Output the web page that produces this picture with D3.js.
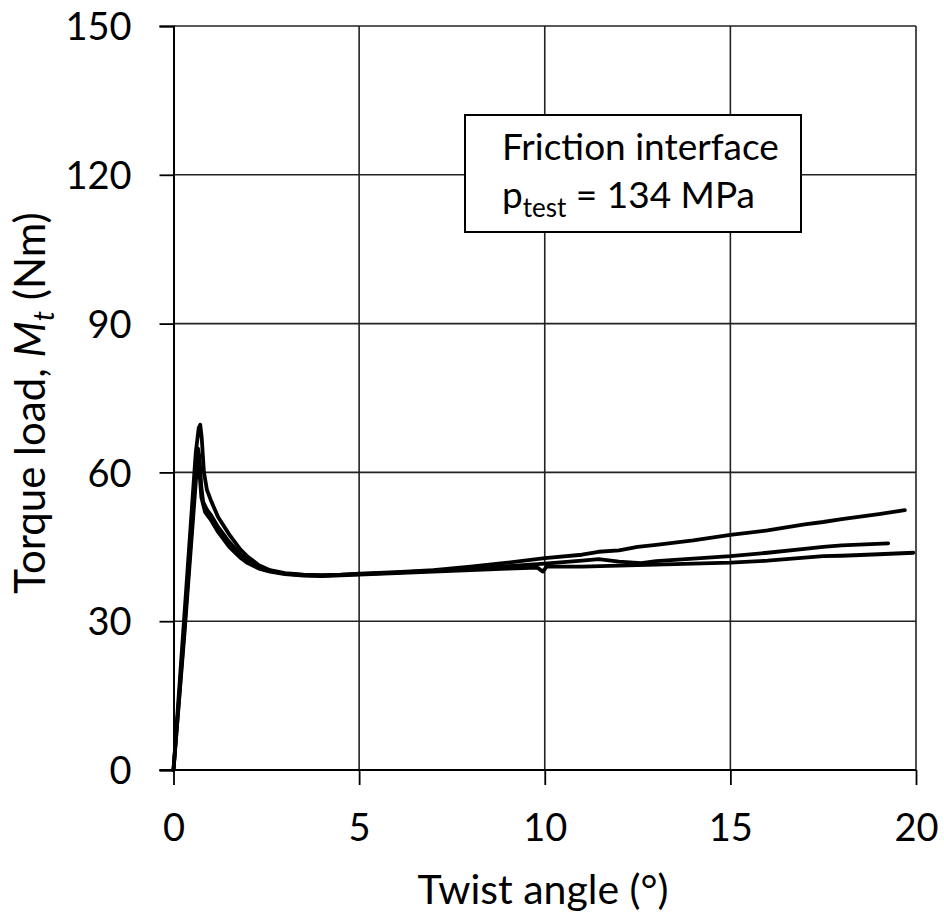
<!DOCTYPE html>
<html><head><meta charset="utf-8">
<script src="https://cdn.jsdelivr.net/npm/d3@7/dist/d3.min.js"></script>
<style>body{margin:0;background:#fff}svg{display:block}text{font-family:Lato,"Open Sans",sans-serif;fill:#000}</style>
</head><body><svg id="c" width="944" height="920"></svg>
<script>
const xTicks = [0, 5, 10, 15, 20];
const yTicks = [0, 30, 60, 90, 120, 150];
const xTitle = "Twist angle (°)";
const legendLine1 = "Friction interface";
const legendPressure = "134 MPa";

const curveA = [[0,0],[0.3,32],[0.6,64],[0.68,69],[0.72,69.6],[0.76,67],[0.82,60],[0.9,56.5],[1.0,54.5],[1.2,51],[1.5,47.5],[1.8,44.5],[2.0,43],[2.3,41.3],[2.6,40.3],[3,39.7],[3.5,39.4],[4,39.3],[4.5,39.4],[5,39.6],[6,39.9],[7,40.3],[8,41],[9,41.8],[10,42.7],[11,43.4],[11.45,44],[12,44.3],[12.5,45],[13,45.4],[14,46.3],[15,47.4],[16,48.3],[17,49.5],[17.5,50],[18,50.6],[19,51.6],[19.7,52.4]];
const curveB = [[0,0],[0.3,29],[0.6,60],[0.66,64.8],[0.7,63],[0.75,57],[0.8,54],[0.9,52.5],[1.0,51.5],[1.2,49],[1.5,46],[1.8,43.5],[2.0,42.2],[2.3,41],[2.6,40.2],[3,39.6],[3.5,39.3],[4,39.2],[5,39.5],[6,39.8],[7,40.2],[8,40.6],[9,41.1],[10,41.6],[11,42.2],[11.45,42.5],[12,42],[12.6,41.7],[13,42.1],[14,42.6],[15,43.1],[16,43.8],[17,44.6],[17.5,45],[18,45.3],[19.25,45.7]];
const curveC = [[0,0],[0.3,28],[0.6,58],[0.65,62.9],[0.7,60],[0.75,55],[0.85,52],[1.0,50.5],[1.2,48],[1.5,45],[1.8,42.8],[2,41.7],[2.3,40.6],[2.6,40],[3,39.5],[3.5,39.2],[4,39.1],[5,39.4],[6,39.7],[7,40],[8,40.3],[9,40.6],[9.8,40.8],[9.95,40],[10.05,41],[11,41],[12,41.2],[13,41.4],[14,41.6],[15,41.8],[16,42.2],[17,42.8],[17.5,43.1],[18,43.2],[19,43.5],[19.93,43.8]];
const curves = [curveA, curveB, curveC];

const L = 173.5, R = 916, T = 26, B = 770;
const svg = d3.select("#c");
const x = d3.scaleLinear().domain([0, 20]).range([L, R]);
const y = d3.scaleLinear().domain([0, 150]).range([B, T]);

// gridlines
svg.append("g").selectAll("line").data(yTicks.filter(d => d > 0)).join("line")
  .attr("x1", L).attr("x2", R).attr("y1", d => y(d)).attr("y2", d => y(d))
  .attr("stroke", "#222").attr("stroke-width", 1.6);
svg.append("g").selectAll("line").data(xTicks.filter(d => d > 0)).join("line")
  .attr("y1", T).attr("y2", B).attr("x1", d => x(d)).attr("x2", d => x(d))
  .attr("stroke", "#222").attr("stroke-width", 1.6);

// axes
const xAxis = svg.append("g").attr("transform", `translate(0,${B})`)
  .call(d3.axisBottom(x).tickValues(xTicks).tickSize(15).tickPadding(29).tickFormat(d3.format("d")));
const yAxis = svg.append("g").attr("transform", `translate(${L},0)`)
  .call(d3.axisLeft(y).tickValues(yTicks).tickSize(14).tickPadding(28).tickFormat(d3.format("d")));
[xAxis, yAxis].forEach(a => {
  a.select(".domain").attr("stroke", "#000").attr("stroke-width", 2);
  a.selectAll(".tick line").attr("stroke", "#000").attr("stroke-width", 1.8);
  a.selectAll(".tick text").attr("font-size", 38).attr("font-family", "Lato").attr("fill", "#000");
});
yAxis.selectAll(".tick text").attr("dy", "0.36em");
xAxis.select(".domain").attr("d", `M${L - 14},0H${R}`);

// curves
const line = d3.line().x(d => x(d[0])).y(d => y(d[1]));
svg.append("g").selectAll("path").data(curves).join("path")
  .attr("d", line).attr("fill", "none").attr("stroke", "#000")
  .attr("stroke-width", 3.8).attr("stroke-linejoin", "round").attr("stroke-linecap", "round");

// legend box
svg.append("rect").attr("x", 465).attr("y", 115).attr("width", 336).attr("height", 117)
  .attr("fill", "#fff").attr("stroke", "#000").attr("stroke-width", 2);
svg.append("text").attr("x", 502).attr("y", 160).attr("font-size", 37).text(legendLine1);
const lt = svg.append("text").attr("x", 502).attr("y", 208).attr("font-size", 37);
lt.append("tspan").text("p");
lt.append("tspan").attr("font-size", 26).attr("dy", 9).text("test");
lt.append("tspan").attr("dy", -9).text(" = " + legendPressure);

// axis titles
svg.append("text").attr("x", 543).attr("y", 904).attr("text-anchor", "middle")
  .attr("font-size", 41).text(xTitle);
const yt = svg.append("text").attr("transform", `translate(45,403) rotate(-90)`)
  .attr("text-anchor", "middle").attr("font-size", 42);
yt.append("tspan").text("Torque load, ");
yt.append("tspan").attr("font-style", "italic").text("M");
yt.append("tspan").attr("font-style", "italic").attr("font-size", 29).attr("dy", 9).text("t");
yt.append("tspan").attr("dy", -9).text(" (Nm)");
</script></body></html>
